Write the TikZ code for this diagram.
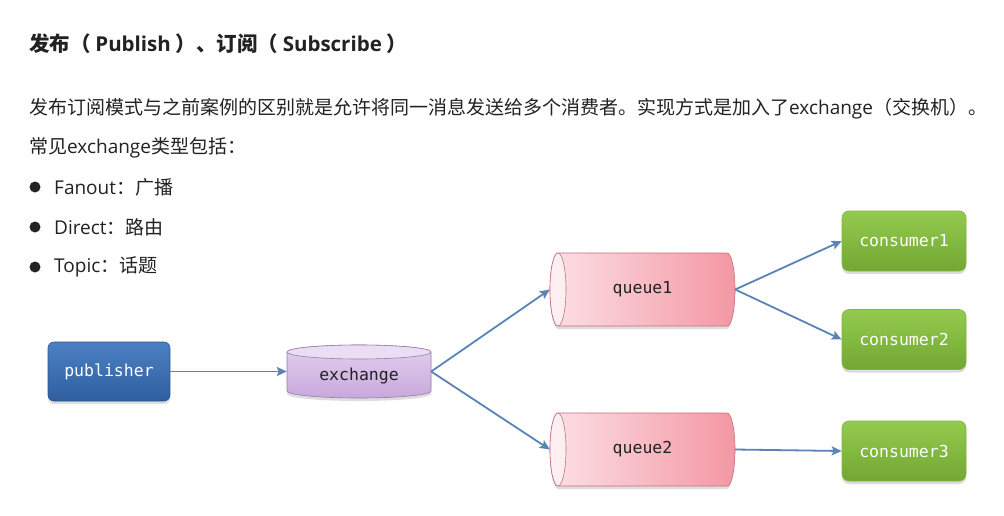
\documentclass[tikz,border=0pt]{standalone}
\usepackage{fontspec}
\setmainfont{Noto Sans CJK SC}
\newfontfamily\monof{DejaVu Sans Mono}
\newfontfamily\latf{Open Sans}
\usetikzlibrary{arrows.meta,shadows,calc}
\definecolor{pubtop}{HTML}{4C80C3}
\definecolor{pubbot}{HTML}{2F5F9F}
\definecolor{publine}{HTML}{2A5590}
\definecolor{extop}{HTML}{E3D0EE}
\definecolor{exbot}{HTML}{C8A8DC}
\definecolor{exend}{HTML}{EBDDF3}
\definecolor{exline}{HTML}{9A7BB0}
\definecolor{qleft}{HTML}{FCE0E5}
\definecolor{qright}{HTML}{F497A4}
\definecolor{qend}{HTML}{FDEEF1}
\definecolor{qline}{HTML}{BF7281}
\definecolor{contop}{HTML}{93CB4E}
\definecolor{conbot}{HTML}{72A733}
\definecolor{conline}{HTML}{7FB43D}
\definecolor{arrowc}{HTML}{5A83B8}
\definecolor{txt}{HTML}{222222}
\tikzset{
  x=1pt, y=-1pt,
  shadowed/.style={drop shadow={shadow xshift=0pt,shadow yshift=-3pt,opacity=0.22,fill=black!60}},
  pubbox/.style={rounded corners=6pt, minimum width=122pt, minimum height=59pt, draw=publine, line width=0.6pt,
    top color=pubtop, bottom color=pubbot, text=white, font=\monof\fontsize{16.5}{18}\selectfont, shadowed},
  conbox/.style={rounded corners=7pt, minimum width=124pt, minimum height=60pt, draw=conline, line width=0.6pt,
    top color=contop, bottom color=conbot, text=white, font=\monof\fontsize{16.5}{18}\selectfont, shadowed},
  holder/.style={inner sep=0pt, text=txt, font=\monof\fontsize{16.5}{18}\selectfont},
  conn/.style={draw=arrowc, line width=1.8pt, -{Stealth[length=10pt,width=9pt,inset=2pt]}},
  bodytext/.style={anchor=west, inner sep=0pt, text=txt, font=\fontsize{19}{21}\selectfont},
  dot/.style={fill=txt, draw=none}
}
\begin{document}
\begin{tikzpicture}
\useasboundingbox (0,0) rectangle (1004,515);
\fill[white] (0,0) rectangle (1004,515);

% texts
\node[bodytext, font=\fontsize{20.5}{22}\selectfont\bfseries] (title) at (29,44) {发布（ {\latf\bfseries Publish} ）、订阅（ {\latf\bfseries Subscribe} ）};
\node[bodytext] (p1) at (29,109) {发布订阅模式与之前案例的区别就是允许将同一消息发送给多个消费者。实现方式是加入了{\latf exchange}（交换机）。};
\node[bodytext] (p2) at (29,148) {常见{\latf exchange}类型包括：};
\fill[dot] (35,187) circle (5.5pt);
\fill[dot] (35,227) circle (5.5pt);
\fill[dot] (35,267) circle (5.5pt);
\node[bodytext] (b1) at (54,187) {{\latf Fanout}：广播};
\node[bodytext] (b2) at (54,227) {{\latf Direct}：路由};
\node[bodytext] (b3) at (54,267) {{\latf Topic}：话题};

% publisher
\node[pubbox] (pub) at (109,371.5) {publisher};

% exchange cylinder (vertical)
\path[draw=exline, line width=0.6pt, top color=extop, bottom color=exbot, shadowed]
  (287,352) -- (287,391) arc[start angle=180, end angle=360, x radius=72pt, y radius=7pt]
  -- (431,352) arc[start angle=0, end angle=180, x radius=72pt, y radius=7pt] -- cycle;
\draw[exline, line width=0.6pt, fill=exend] (359,352) ellipse[x radius=72pt, y radius=7pt];
\node[holder, minimum width=144pt, minimum height=53pt] (ex) at (359,371.5) {};
\node[holder] (exl) at (359,376) {exchange};

% queue cylinders (horizontal)
\foreach \n/\cy/\lab in {q1/289.5/queue1, q2/449.5/queue2}{
  \path[draw=qline, line width=0.6pt, left color=qleft, right color=qright, shadowed]
    (558,\cy-36.5) -- (727,\cy-36.5) arc[start angle=90, end angle=-90, x radius=8pt, y radius=36.5pt]
    -- (558,\cy+36.5) arc[start angle=270, end angle=90, x radius=8pt, y radius=36.5pt] -- cycle;
  \draw[qline, line width=0.6pt, fill=qend] (558,\cy) ellipse[x radius=8pt, y radius=36.5pt];
  \node[holder, minimum width=185pt, minimum height=73pt] (\n) at (642.5,\cy) {\lab};
}

% consumers
\node[conbox] (c1) at (904,241) {consumer1};
\node[conbox] (c2) at (904,339.5) {consumer2};
\node[conbox] (c3) at (904,451) {consumer3};

% connectors
\draw[conn] (pub.east) -- (ex.west);
\draw[conn] (ex.east) -- (q1.west);
\draw[conn] (ex.east) -- (q2.west);
\draw[conn] (q1.east) -- (c1.west);
\draw[conn] (q1.east) -- (c2.west);
\draw[conn] (q2.east) -- (c3.west);
\end{tikzpicture}
\end{document}
